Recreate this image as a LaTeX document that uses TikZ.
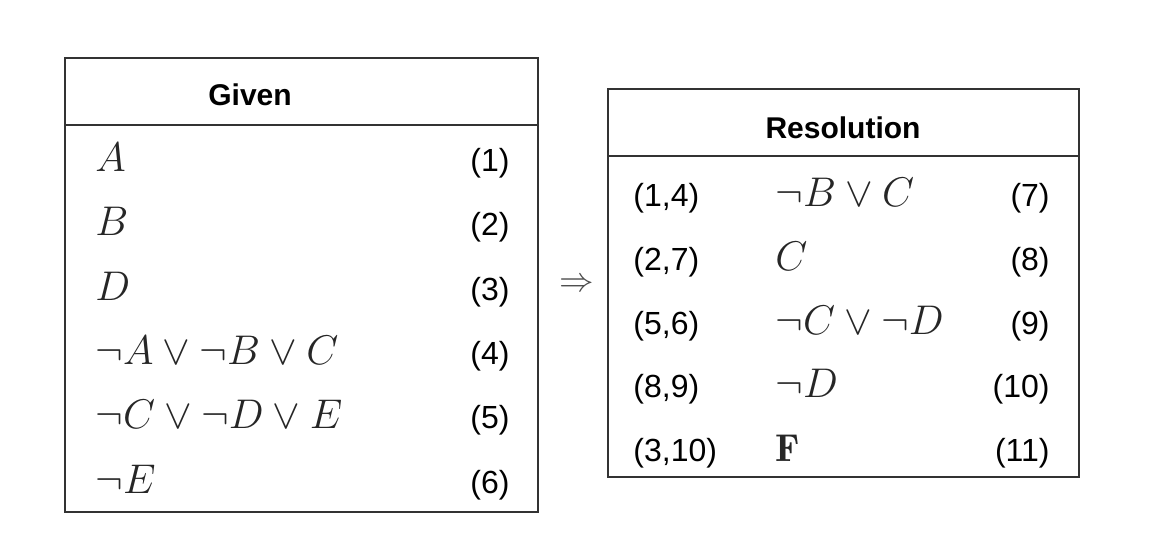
\documentclass[tikz,border=0pt]{standalone}
\usepackage{amsmath}
\usepackage{fontspec}
\newfontfamily\labelfont{Liberation Sans}
\usetikzlibrary{positioning}
\tikzset{box/.style={draw=black!80, line width=1pt}}
\tikzset{head/.style={font=\labelfont\bfseries\fontsize{15}{18}\selectfont, anchor=base}}
\tikzset{num/.style={font=\labelfont\fontsize{16}{19}\selectfont, anchor=base east, inner sep=0pt}}
\tikzset{src/.style={font=\labelfont\fontsize{16}{19}\selectfont, anchor=base west, inner sep=0pt}}
\tikzset{formula/.style={font=\fontsize{19.4}{23}\selectfont, anchor=base west, inner sep=0pt, text=black!85}}

\begin{document}
\begin{tikzpicture}[x=0.5pt, y=-0.5pt]

    \useasboundingbox (0,0) rectangle (1176,548);

    % given box
    \coordinate (gnw) at (65,58);
    \coordinate (gse) at (538,512);
    \coordinate (gl) at (65,125);
    \coordinate (gr) at (538,125);
    \draw[box] (gnw) rectangle (gse);
    \draw[box] (gl) -- (gr);
    \node[head] (given) at (250,105) {Given};

    \foreach \f/\n/\y in {A/1/171, B/2/235, D/3/300, {\neg A\vee\neg B\vee C}/4/364, {\neg C\vee\neg D\vee E}/5/428, {\neg E}/6/493}{
        \node[formula] (g\n) at (95,\y) {$\f$};
        \node[num] (gn\n) at (510,\y) {(\n)};
    }

    % resolution box
    \coordinate (rnw) at (608,89);
    \coordinate (rse) at (1079,477);
    \coordinate (rl) at (608,156);
    \coordinate (rr) at (1079,156);
    \draw[box] (rnw) rectangle (rse);
    \draw[box] (rl) -- (rr);
    \node[head] (resolution) at (843,138) {Resolution};

    \foreach \s/\f/\n/\y in {{1,4}/{\neg B\vee C}/7/206, {2,7}/C/8/270, {5,6}/{\neg C\vee\neg D}/9/334, {8,9}/{\neg D}/10/397, {3,10}/{\mathbf{F}}/11/461}{
        \node[src] (rs\n) at (633,\y) {(\s)};
        \node[formula] (r\n) at (775,\y) {$\f$};
        \node[num] (rn\n) at (1050,\y) {(\n)};
    }

    \node[font=\fontsize{16}{19}\selectfont, text=black!70] (implies) at (577,285) {$\Rightarrow$};

\end{tikzpicture}
\end{document}
